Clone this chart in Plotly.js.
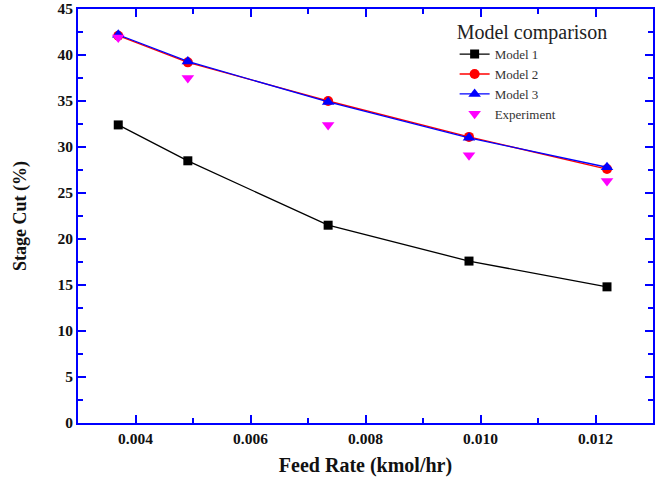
<!DOCTYPE html>
<html><head><meta charset="utf-8">
<script src="https://cdn.plot.ly/plotly-3.0.1.min.js"></script>
<style>html,body{margin:0;padding:0;background:#fff}#c{width:656px;height:477px}</style>
</head><body><div id="c"></div>
<script>
const feedRate = [0.0037, 0.00491, 0.00735, 0.0098, 0.0122];
const model1 = [32.4, 28.5, 21.5, 17.6, 14.8];
const model2 = [42.1, 39.2, 35.0, 31.1, 27.6];
const model3 = [42.2, 39.3, 34.9, 31.0, 27.8];
const experiment = [41.9, 37.5, 32.4, 29.1, 26.3];
const names = ["Model 1", "Model 2", "Model 3", "Experiment"];

const font = "'Liberation Serif', serif";
const traces = [
  {x: feedRate, y: model1, name: names[0], mode: "lines+markers",
   line: {color: "#000000", width: 1.3}, marker: {symbol: "square", size: 9, color: "#000000"}},
  {x: feedRate, y: model2, name: names[1], mode: "lines+markers",
   line: {color: "#ff0000", width: 1.3}, marker: {symbol: "circle", size: 10, color: "#ff0000"}},
  {x: feedRate, y: model3, name: names[2], mode: "lines+markers",
   line: {color: "#0000ff", width: 1.3}, marker: {symbol: "triangle-up", size: 11, color: "#0000ff"}},
  {x: feedRate, y: experiment, name: names[3], mode: "markers",
   marker: {symbol: "triangle-down", size: 11, color: "#ff00ff"}}
];
const axisCommon = {
  showline: true, linecolor: "#0000ff", linewidth: 2, mirror: "ticks",
  ticks: "inside", ticklen: 8, tickwidth: 2, tickcolor: "#0000ff",
  showgrid: false, zeroline: false, ticklabeloverflow: "allow",
  tickfont: {family: font, size: 15.5, color: "#111", weight: "bold"},
  minor: {ticks: "inside", ticklen: 5, tickwidth: 2, tickcolor: "#0000ff", showgrid: false}
};
const layout = {
  width: 656, height: 477,
  margin: {l: 78, r: 3, t: 9, b: 54},
  paper_bgcolor: "#fff", plot_bgcolor: "#fff",
  showlegend: true,
  font: {family: font, color: "#000"},
  xaxis: Object.assign({}, axisCommon, {
    range: [0.003, 0.013], tickvals: [0.004, 0.006, 0.008, 0.010, 0.012],
    ticktext: ["0.004", "0.006", "0.008", "0.010", "0.012"],
    minor: Object.assign({}, axisCommon.minor, {dtick: 0.001}),
    title: {text: "Feed Rate (kmol/hr)", font: {family: font, size: 20, weight: "bold", color: "#111"}, standoff: 14}
  }),
  yaxis: Object.assign({}, axisCommon, {
    range: [0, 45], dtick: 5,
    minor: Object.assign({}, axisCommon.minor, {dtick: 2.5}),
    title: {text: "Stage Cut (%)", font: {family: font, size: 18, weight: "bold", color: "#111"}, standoff: 26}
  }),
  legend: {
    x: 0.655, y: 0.99, xanchor: "left", yanchor: "top",
    bgcolor: "rgba(0,0,0,0)",
    title: {text: "Model comparison", side: "top", font: {family: font, size: 20, color: "#222"}},
    font: {family: font, size: 13, color: "#333"},
    tracegroupgap: 0, itemwidth: 30
  }
};
Plotly.newPlot("c", traces, layout, {displayModeBar: false, staticPlot: true});
</script></body></html>
